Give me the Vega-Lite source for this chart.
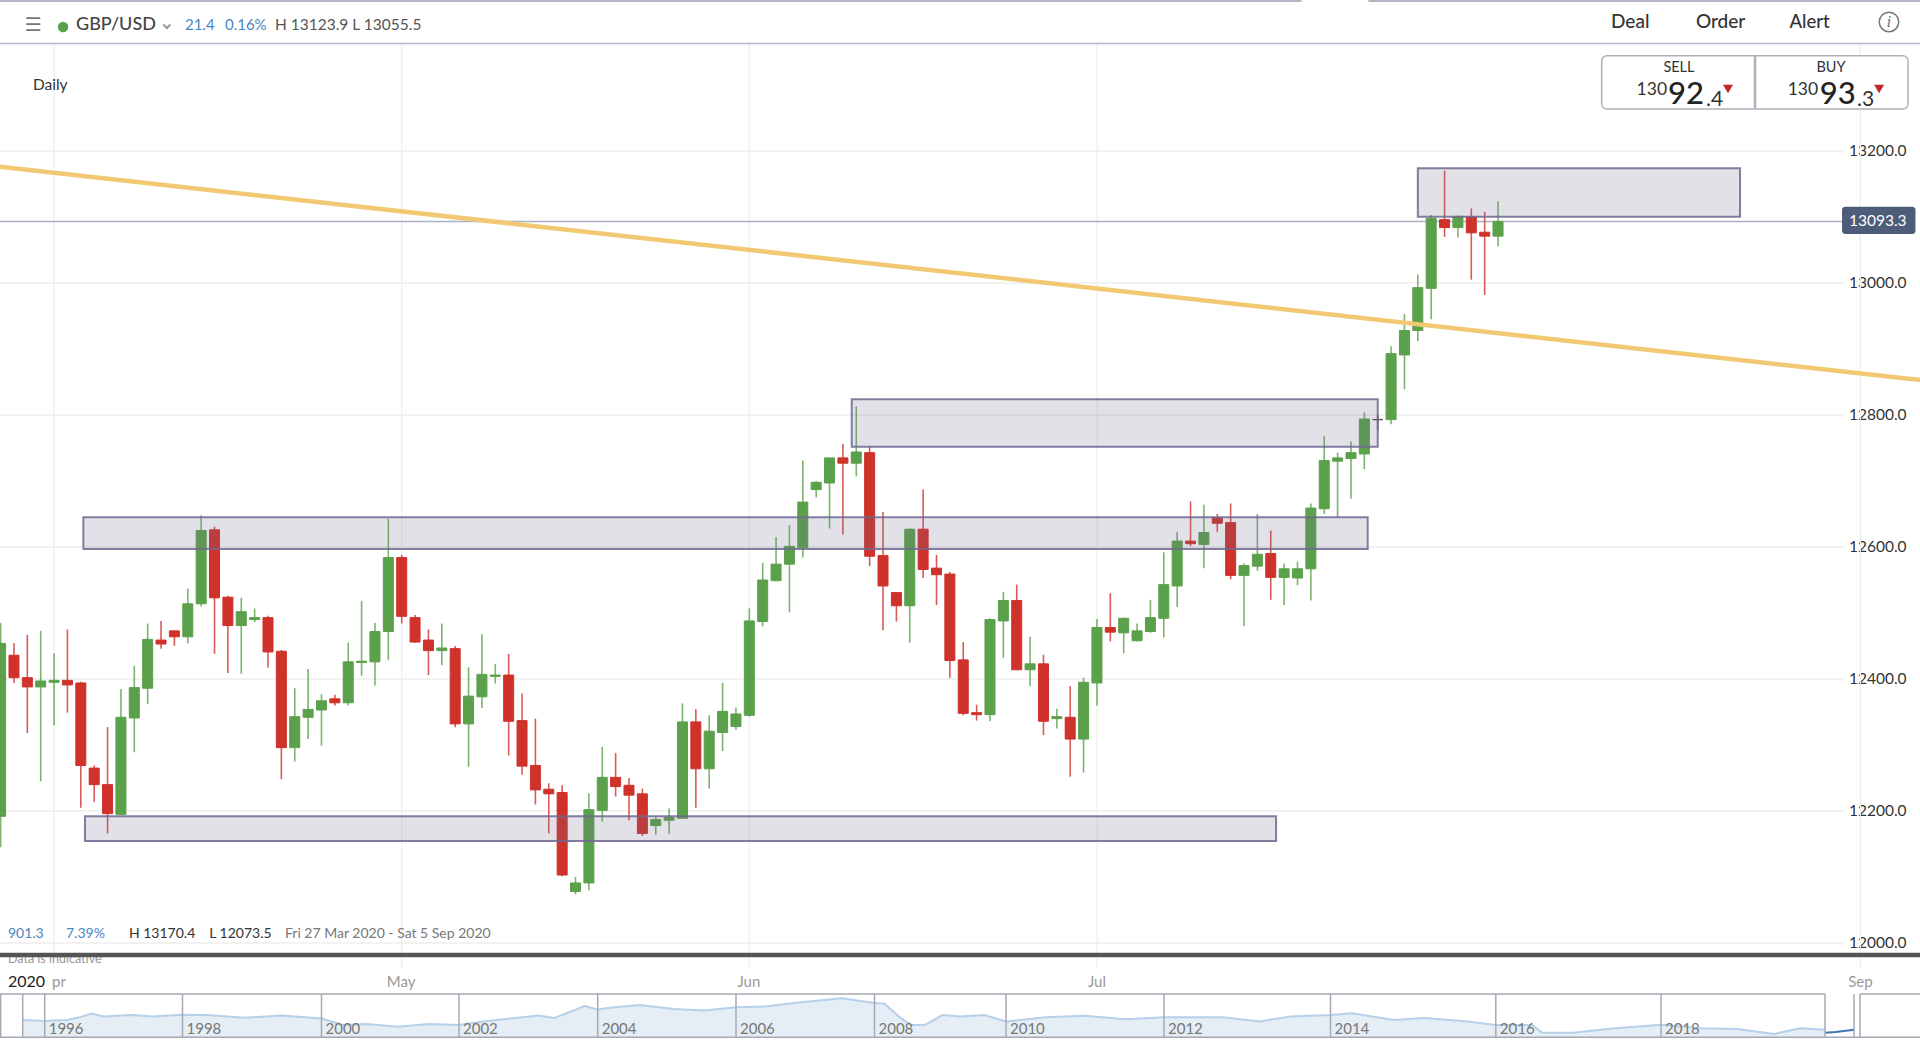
{
  "$schema": "https://vega.github.io/schema/vega-lite/v6.json",
  "width": 1920,
  "height": 1043,
  "padding": 0,
  "autosize": {"type": "none"},
  "background": "white",
  "datasets": {
    "one": [{}],
    "levels": [{"p":12000},{"p":12200},{"p":12400},{"p":12600},{"p":12800},{"p":13000},{"p":13200}],
    "months": [{"i":4,"m":"Apr"},{"i":30,"m":"May"},{"i":56,"m":"Jun"},{"i":82,"m":"Jul"},{"i":139.1,"m":"Sep"}],
    "monthlabels": [{"i":4.37,"m":"pr"},{"i":29.95,"m":"May"},{"i":55.97,"m":"Jun"},{"i":82,"m":"Jul"},{"i":139.1,"m":"Sep"}],
    "zones": [
      {"x0":106.0,"x1":130.1,"top":13174,"bottom":13100.5},
      {"x0":63.66,"x1":103.0,"top":12824,"bottom":12752},
      {"x0":6.19,"x1":102.25,"top":12645,"bottom":12597},
      {"x0":6.31,"x1":95.4,"top":12192,"bottom":12154.5}
    ],
    "trend": [{"i":-0.045,"p":13176.2},{"i":143.56,"p":12853}],
    "candles": [
      {"i":0,"o":12192,"h":12485,"l":12145,"c":12454},
      {"i":1,"o":12436,"h":12454,"l":12394,"c":12402},
      {"i":2,"o":12402,"h":12467,"l":12318,"c":12388},
      {"i":3,"o":12388,"h":12473,"l":12245,"c":12397},
      {"i":4,"o":12395,"h":12439,"l":12330,"c":12398},
      {"i":5,"o":12398,"h":12475,"l":12349,"c":12391},
      {"i":6,"o":12394,"h":12396,"l":12205,"c":12269},
      {"i":7,"o":12265,"h":12269,"l":12214,"c":12240},
      {"i":8,"o":12240,"h":12327,"l":12166,"c":12196},
      {"i":9,"o":12195,"h":12385,"l":12194,"c":12342},
      {"i":10,"o":12341,"h":12420,"l":12289,"c":12387},
      {"i":11,"o":12386,"h":12484,"l":12362,"c":12460},
      {"i":12,"o":12459,"h":12488,"l":12446,"c":12453},
      {"i":13,"o":12473,"h":12473,"l":12450,"c":12464},
      {"i":14,"o":12464,"h":12537,"l":12454,"c":12514},
      {"i":15,"o":12514,"h":12648,"l":12510,"c":12625},
      {"i":16,"o":12626,"h":12631,"l":12438,"c":12523},
      {"i":17,"o":12524,"h":12526,"l":12409,"c":12481},
      {"i":18,"o":12481,"h":12523,"l":12408,"c":12502},
      {"i":19,"o":12490,"h":12507,"l":12486,"c":12493},
      {"i":20,"o":12493,"h":12496,"l":12417,"c":12441},
      {"i":21,"o":12442,"h":12444,"l":12248,"c":12296},
      {"i":22,"o":12296,"h":12386,"l":12275,"c":12343},
      {"i":23,"o":12342,"h":12415,"l":12309,"c":12354},
      {"i":24,"o":12353,"h":12377,"l":12299,"c":12367},
      {"i":25,"o":12370,"h":12376,"l":12360,"c":12364},
      {"i":26,"o":12364,"h":12455,"l":12360,"c":12426},
      {"i":27,"o":12425,"h":12518,"l":12405,"c":12427},
      {"i":28,"o":12426,"h":12485,"l":12390,"c":12472},
      {"i":29,"o":12472,"h":12643,"l":12429,"c":12584},
      {"i":30,"o":12584,"h":12588,"l":12484,"c":12495},
      {"i":31,"o":12493,"h":12497,"l":12455,"c":12456},
      {"i":32,"o":12459,"h":12475,"l":12406,"c":12443},
      {"i":33,"o":12443,"h":12484,"l":12421,"c":12447},
      {"i":34,"o":12446,"h":12450,"l":12327,"c":12332},
      {"i":35,"o":12332,"h":12418,"l":12267,"c":12374},
      {"i":36,"o":12373,"h":12468,"l":12356,"c":12407},
      {"i":37,"o":12404,"h":12423,"l":12393,"c":12406},
      {"i":38,"o":12406,"h":12438,"l":12284,"c":12336},
      {"i":39,"o":12337,"h":12378,"l":12255,"c":12268},
      {"i":40,"o":12269,"h":12340,"l":12210,"c":12232},
      {"i":41,"o":12233,"h":12242,"l":12166,"c":12226},
      {"i":42,"o":12228,"h":12239,"l":12101,"c":12103},
      {"i":43,"o":12078,"h":12100,"l":12073.5,"c":12091},
      {"i":44,"o":12091,"h":12227,"l":12080,"c":12202},
      {"i":45,"o":12201,"h":12297,"l":12184,"c":12251},
      {"i":46,"o":12251,"h":12288,"l":12222,"c":12237},
      {"i":47,"o":12239,"h":12250,"l":12186,"c":12224},
      {"i":48,"o":12226,"h":12234,"l":12162,"c":12166},
      {"i":49,"o":12178,"h":12191,"l":12164,"c":12187},
      {"i":50,"o":12186,"h":12204,"l":12165,"c":12190},
      {"i":51,"o":12189,"h":12363,"l":12189,"c":12335},
      {"i":52,"o":12335,"h":12354,"l":12205,"c":12264},
      {"i":53,"o":12264,"h":12345,"l":12234,"c":12321},
      {"i":54,"o":12319,"h":12394,"l":12291,"c":12351},
      {"i":55,"o":12328,"h":12357,"l":12323,"c":12347},
      {"i":56,"o":12345,"h":12507,"l":12343,"c":12488},
      {"i":57,"o":12487,"h":12576,"l":12480,"c":12550},
      {"i":58,"o":12549,"h":12615,"l":12548,"c":12574},
      {"i":59,"o":12574,"h":12633,"l":12501,"c":12601},
      {"i":60,"o":12599,"h":12731,"l":12584,"c":12668},
      {"i":61,"o":12687,"h":12700,"l":12675,"c":12698},
      {"i":62,"o":12697,"h":12735,"l":12628,"c":12735},
      {"i":63,"o":12735,"h":12756,"l":12619,"c":12727},
      {"i":64,"o":12727,"h":12813,"l":12707,"c":12744},
      {"i":65,"o":12743,"h":12752,"l":12571,"c":12586},
      {"i":66,"o":12587,"h":12653,"l":12474,"c":12541},
      {"i":67,"o":12531,"h":12531,"l":12487,"c":12511},
      {"i":68,"o":12511,"h":12628,"l":12455,"c":12627},
      {"i":69,"o":12627,"h":12687,"l":12553,"c":12566},
      {"i":70,"o":12568,"h":12588,"l":12512,"c":12558},
      {"i":71,"o":12559,"h":12562,"l":12402,"c":12428},
      {"i":72,"o":12429,"h":12456,"l":12345,"c":12348},
      {"i":73,"o":12349,"h":12361,"l":12337,"c":12346},
      {"i":74,"o":12346,"h":12492,"l":12336,"c":12490},
      {"i":75,"o":12488,"h":12532,"l":12432,"c":12519},
      {"i":76,"o":12519,"h":12543,"l":12414,"c":12414},
      {"i":77,"o":12414,"h":12464,"l":12389,"c":12423},
      {"i":78,"o":12423,"h":12437,"l":12315,"c":12336},
      {"i":79,"o":12340,"h":12355,"l":12325,"c":12343},
      {"i":80,"o":12342,"h":12389,"l":12252,"c":12309},
      {"i":81,"o":12309,"h":12402,"l":12258,"c":12395},
      {"i":82,"o":12394,"h":12491,"l":12360,"c":12478},
      {"i":83,"o":12478,"h":12530,"l":12457,"c":12471},
      {"i":84,"o":12470,"h":12493,"l":12439,"c":12492},
      {"i":85,"o":12458,"h":12484,"l":12457,"c":12473},
      {"i":86,"o":12472,"h":12520,"l":12470,"c":12493},
      {"i":87,"o":12492,"h":12592,"l":12463,"c":12543},
      {"i":88,"o":12541,"h":12623,"l":12509,"c":12609},
      {"i":89,"o":12609,"h":12669,"l":12601,"c":12605},
      {"i":90,"o":12604,"h":12664,"l":12568,"c":12622},
      {"i":91,"o":12644,"h":12650,"l":12623,"c":12636},
      {"i":92,"o":12637,"h":12666,"l":12551,"c":12557},
      {"i":93,"o":12557,"h":12575,"l":12480,"c":12572},
      {"i":94,"o":12571,"h":12650,"l":12564,"c":12589},
      {"i":95,"o":12590,"h":12625,"l":12520,"c":12554},
      {"i":96,"o":12554,"h":12575,"l":12512,"c":12567},
      {"i":97,"o":12553,"h":12578,"l":12542,"c":12567},
      {"i":98,"o":12567,"h":12666,"l":12519,"c":12659},
      {"i":99,"o":12658,"h":12768,"l":12650,"c":12731},
      {"i":100,"o":12730,"h":12743,"l":12645,"c":12735},
      {"i":101,"o":12734,"h":12760,"l":12673,"c":12743},
      {"i":102,"o":12741,"h":12804,"l":12718,"c":12794},
      {"i":103,"o":12793,"h":12800,"l":12777,"c":12793},
      {"i":104,"o":12793,"h":12904,"l":12786,"c":12893},
      {"i":105,"o":12891,"h":12953,"l":12839,"c":12928},
      {"i":106,"o":12928,"h":13013,"l":12912,"c":12993},
      {"i":107,"o":12992,"h":13103,"l":12945,"c":13098},
      {"i":108,"o":13096,"h":13170.4,"l":13070,"c":13084},
      {"i":109,"o":13084,"h":13102,"l":13069,"c":13101},
      {"i":110,"o":13100,"h":13113,"l":13005,"c":13076},
      {"i":111,"o":13077,"h":13108,"l":12982,"c":13071},
      {"i":112,"o":13071,"h":13123.9,"l":13055.5,"c":13093.3}
    ],
    "history": [
      {"year":1995.7,"rate":1.51},{"year":1996,"rate":1.48},{"year":1996.33,"rate":1.51},{"year":1996.5,"rate":1.58},
      {"year":1996.68,"rate":1.68},{"year":1996.86,"rate":1.6},{"year":1997.26,"rate":1.64},{"year":1997.57,"rate":1.6},
      {"year":1998,"rate":1.65},{"year":1998.36,"rate":1.64},{"year":1998.89,"rate":1.57},{"year":1999.43,"rate":1.63},
      {"year":2000,"rate":1.55},{"year":2000.31,"rate":1.38},{"year":2000.66,"rate":1.4},{"year":2001.11,"rate":1.33},
      {"year":2001.56,"rate":1.4},{"year":2002,"rate":1.38},{"year":2002.35,"rate":1.47},{"year":2002.71,"rate":1.54},
      {"year":2003.15,"rate":1.63},{"year":2003.37,"rate":1.56},{"year":2003.81,"rate":1.88},{"year":2004,"rate":1.79},
      {"year":2004.21,"rate":1.84},{"year":2004.61,"rate":1.91},{"year":2005.1,"rate":1.8},{"year":2005.54,"rate":1.76},
      {"year":2006,"rate":1.85},{"year":2006.42,"rate":1.87},{"year":2006.87,"rate":1.97},{"year":2007.53,"rate":2.09},
      {"year":2008,"rate":1.96},{"year":2008.15,"rate":1.95},{"year":2008.37,"rate":1.6},{"year":2008.55,"rate":1.38},
      {"year":2008.77,"rate":1.38},{"year":2009.03,"rate":1.64},{"year":2009.3,"rate":1.6},{"year":2009.67,"rate":1.64},
      {"year":2010,"rate":1.47},{"year":2010.5,"rate":1.58},{"year":2011,"rate":1.62},{"year":2011.51,"rate":1.53},
      {"year":2012,"rate":1.58},{"year":2012.71,"rate":1.58},{"year":2013.15,"rate":1.47},{"year":2013.52,"rate":1.6},
      {"year":2014,"rate":1.64},{"year":2014.26,"rate":1.69},{"year":2014.77,"rate":1.51},{"year":2015.14,"rate":1.56},
      {"year":2015.66,"rate":1.47},{"year":2016,"rate":1.38},{"year":2016.44,"rate":1.38},{"year":2016.56,"rate":1.17},
      {"year":2016.93,"rate":1.17},{"year":2017.44,"rate":1.29},{"year":2018,"rate":1.38},{"year":2018.49,"rate":1.29},
      {"year":2018.93,"rate":1.27},{"year":2019.38,"rate":1.14},{"year":2019.7,"rate":1.29},{"year":2020,"rate":1.25}
    ],
    "recent": [{"year":2020,"rate":1.17},{"year":2020.22,"rate":1.19},{"year":2020.6,"rate":1.25}],
    "yearlabels": [{"year":1996},{"year":1998},{"year":2000},{"year":2002},{"year":2004},{"year":2006},{"year":2008},{"year":2010},{"year":2012},{"year":2014},{"year":2016},{"year":2018}],
    "cuts": [{"year":1995.7},{"year":2020},{"year":2020.6}]
  },
  "layer": [
    {
      "layer": [
        {
          "data": {"name": "levels"},
          "mark": {"type": "rule", "color": "#eeeeee", "strokeWidth": 1.5},
          "encoding": {
            "x": {"datum": -0.045, "scale": {"domain": [-0.045, 143.56], "range": [0, 1920], "padding": 0, "nice": false, "zero": false}},
            "x2": {"datum": 137.95},
            "y": {
              "field": "p", "type": "quantitative",
              "scale": {"domain": [11848.5, 13428.8], "range": [1043, 0], "padding": 0, "nice": false, "zero": false}
            }
          }
        },
        {
          "data": {"name": "levels"},
          "mark": {"type": "text", "fontSize": 15.5, "color": "#333333"},
          "encoding": {
            "x": {"datum": 138.25},
            "y": {"field": "p", "type": "quantitative"},
            "text": {"field": "p", "type": "quantitative", "format": ".1f"}
          }
        },
        {
          "data": {"name": "months"},
          "mark": {"type": "rule", "color": "#eeeeee", "strokeWidth": 1.2},
          "encoding": {
            "x": {"field": "i", "type": "quantitative"},
            "y": {"datum": 11962},
            "y2": {"datum": 13362}
          }
        },
        {
          "data": {"name": "one"},
          "mark": {"type": "rule", "color": "#a9b1c6", "strokeWidth": 1.5},
          "encoding": {"x": {"datum": -0.045}, "x2": {"datum": 137.73}, "y": {"datum": 13093.3}}
        },
        {
          "data": {"name": "candles"},
          "layer": [
            {
              "mark": {"type": "rule", "strokeWidth": 1.6, "opacity": 0.8, "clip": true},
              "encoding": {
                "x": {"field": "i", "type": "quantitative"},
                "y": {"field": "l", "type": "quantitative"},
                "y2": {"field": "h"},
                "color": {"condition": [{"test": "datum.c>datum.o", "value": "#5ba04a"}, {"test": "datum.c<datum.o", "value": "#cf322b"}], "value": "#444444"}
              }
            },
            {
              "mark": {"type": "bar", "size": 10, "strokeWidth": 1, "clip": true},
              "encoding": {
                "x": {"field": "i", "type": "quantitative"},
                "y": {"field": "o", "type": "quantitative"},
                "y2": {"field": "c"},
                "fill": {"condition": [{"test": "datum.c>datum.o", "value": "#5ba04a"}, {"test": "datum.c<datum.o", "value": "#cf322b"}], "value": "#444444"},
                "stroke": {"condition": [{"test": "datum.c>datum.o", "value": "#5ba04a"}, {"test": "datum.c<datum.o", "value": "#cf322b"}], "value": "#444444"}
              }
            }
          ]
        },
        {
          "data": {"name": "zones"},
          "mark": {"type": "rect", "fill": "#73698c", "fillOpacity": 0.2, "stroke": "#6f6790", "strokeOpacity": 0.85, "strokeWidth": 2},
          "encoding": {
            "x": {"field": "x0", "type": "quantitative"},
            "x2": {"field": "x1"},
            "y": {"field": "top", "type": "quantitative"},
            "y2": {"field": "bottom"}
          }
        },
        {
          "data": {"name": "trend"},
          "mark": {"type": "line", "color": "#f3c873", "strokeWidth": 4.5, "clip": true},
          "encoding": {
            "x": {"field": "i", "type": "quantitative"},
            "y": {"field": "p", "type": "quantitative"}
          }
        },
        {
          "data": {"name": "monthlabels"},
          "mark": {"type": "text", "align": "center", "fontSize": 15, "color": "#999999"},
          "encoding": {
            "x": {"field": "i", "type": "quantitative"},
            "y": {"datum": 11941.4},
            "text": {"field": "m"}
          }
        },
        {
          "data": {"name": "one"},
          "layer": [
            {"mark": {"type": "rule", "color": "#b4b4c4", "strokeWidth": 2}, "encoding": {"x": {"datum": -0.045}, "x2": {"datum": 97.3}, "y": {"datum": 13427.3}}},
            {"mark": {"type": "rule", "color": "#b4b4c4", "strokeWidth": 2}, "encoding": {"x": {"datum": 102.3}, "x2": {"datum": 143.56}, "y": {"datum": 13427.3}}},
            {"mark": {"type": "rule", "color": "#b4b4c4", "strokeWidth": 1.5}, "encoding": {"x": {"datum": -0.045}, "x2": {"datum": 143.56}, "y": {"datum": 13362.9}}},
            {"mark": {"type": "text", "text": "☰", "align": "center", "font": "DejaVu Sans", "fontSize": 19, "color": "#777777"}, "encoding": {"x": {"datum": 2.42}, "y": {"datum": 13391}}},
            {"mark": {"type": "point", "shape": "circle", "filled": true, "size": 110, "color": "#5ba04a", "opacity": 1}, "encoding": {"x": {"datum": 4.67}, "y": {"datum": 13388}}},
            {"mark": {"type": "text", "text": "GBP/USD", "fontSize": 18, "fontWeight": 500, "color": "#444444"}, "encoding": {"x": {"datum": 5.64}, "y": {"datum": 13391}}},
            {"mark": {"type": "point", "shape": "M-1,-0.5L0,0.5L1,-0.5", "filled": false, "size": 50, "strokeWidth": 2, "color": "#999999", "opacity": 1}, "encoding": {"x": {"datum": 12.44}, "y": {"datum": 13389}}},
            {"mark": {"type": "text", "text": "21.4", "fontSize": 15, "color": "#4a86c5"}, "encoding": {"x": {"datum": 13.79}, "y": {"datum": 13391}}},
            {"mark": {"type": "text", "text": "0.16%", "fontSize": 15, "color": "#4a86c5"}, "encoding": {"x": {"datum": 16.78}, "y": {"datum": 13391}}},
            {"mark": {"type": "text", "text": "H 13123.9  L 13055.5", "fontSize": 15.5, "color": "#555555"}, "encoding": {"x": {"datum": 20.52}, "y": {"datum": 13391}}},
            {"mark": {"type": "text", "text": "Daily", "fontSize": 15.5, "color": "#333333"}, "encoding": {"x": {"datum": 2.42}, "y": {"datum": 13300}}},
            {"mark": {"type": "text", "text": "Deal", "fontSize": 19, "fontWeight": 500, "color": "#333333"}, "encoding": {"x": {"datum": 120.45}, "y": {"datum": 13395.5}}},
            {"mark": {"type": "text", "text": "Order", "fontSize": 19, "fontWeight": 500, "color": "#333333"}, "encoding": {"x": {"datum": 126.8}, "y": {"datum": 13395.5}}},
            {"mark": {"type": "text", "text": "Alert", "fontSize": 18.5, "fontWeight": 500, "color": "#333333"}, "encoding": {"x": {"datum": 133.8}, "y": {"datum": 13395.5}}},
            {"mark": {"type": "point", "shape": "circle", "filled": false, "size": 380, "strokeWidth": 1.5, "color": "#777777", "opacity": 1}, "encoding": {"x": {"datum": 141.24}, "y": {"datum": 13395.5}}},
            {"mark": {"type": "text", "text": "i", "align": "center", "font": "Liberation Serif", "fontStyle": "italic", "fontSize": 17, "color": "#777777"}, "encoding": {"x": {"datum": 141.24}, "y": {"datum": 13395.5}}},
            {"mark": {"type": "rect", "fill": "white", "stroke": "#b0b0bc", "strokeWidth": 1.5, "cornerRadius": 5}, "encoding": {"x": {"datum": 119.75}, "x2": {"datum": 142.66}, "y": {"datum": 13344.4}, "y2": {"datum": 13263.6}}},
            {"mark": {"type": "rule", "color": "#b0b0bc", "strokeWidth": 2.5}, "encoding": {"x": {"datum": 131.22}, "y": {"datum": 13344.4}, "y2": {"datum": 13263.6}}},
            {"mark": {"type": "text", "text": "SELL", "align": "center", "fontSize": 14.5, "color": "#333333"}, "encoding": {"x": {"datum": 125.53}, "y": {"datum": 13325.8}}},
            {"mark": {"type": "text", "text": "BUY", "align": "center", "fontSize": 14.5, "color": "#333333"}, "encoding": {"x": {"datum": 136.9}, "y": {"datum": 13325.8}}},
            {"mark": {"type": "text", "text": "130", "align": "center", "fontSize": 17.5, "color": "#333333"}, "encoding": {"x": {"datum": 123.5}, "y": {"datum": 13292.4}}},
            {"mark": {"type": "text", "text": "130", "align": "center", "fontSize": 17.5, "color": "#333333"}, "encoding": {"x": {"datum": 134.8}, "y": {"datum": 13292.4}}},
            {"mark": {"type": "text", "text": "92", "align": "center", "fontSize": 31, "fontWeight": 500, "color": "#222222"}, "encoding": {"x": {"datum": 126.06}, "y": {"datum": 13284.8}}},
            {"mark": {"type": "text", "text": "93", "align": "center", "fontSize": 31, "fontWeight": 500, "color": "#222222"}, "encoding": {"x": {"datum": 137.4}, "y": {"datum": 13284.8}}},
            {"mark": {"type": "text", "text": ".4", "fontSize": 21, "color": "#333333"}, "encoding": {"x": {"datum": 127.55}, "y": {"datum": 13277.3}}},
            {"mark": {"type": "text", "text": ".3", "fontSize": 21, "color": "#333333"}, "encoding": {"x": {"datum": 138.85}, "y": {"datum": 13277.3}}},
            {"mark": {"type": "point", "shape": "triangle-down", "filled": true, "size": 100, "color": "#c0262a", "opacity": 1}, "encoding": {"x": {"datum": 129.2}, "y": {"datum": 13293.9}}},
            {"mark": {"type": "point", "shape": "triangle-down", "filled": true, "size": 100, "color": "#c0262a", "opacity": 1}, "encoding": {"x": {"datum": 140.5}, "y": {"datum": 13293.9}}},
            {"mark": {"type": "rect", "fill": "#4d5d79", "cornerRadius": 3}, "encoding": {"x": {"datum": 137.73}, "x2": {"datum": 143.22}, "y": {"datum": 13115.6}, "y2": {"datum": 13074.2}}},
            {"mark": {"type": "text", "text": "13093.3", "fontSize": 15.5, "color": "#ffffff"}, "encoding": {"x": {"datum": 138.25}, "y": {"datum": 13093.3}}},
            {"mark": {"type": "text", "text": "901.3", "fontSize": 14, "color": "#4a86c5"}, "encoding": {"x": {"datum": 0.55}, "y": {"datum": 12013.6}}},
            {"mark": {"type": "text", "text": "7.39%", "fontSize": 14, "color": "#4a86c5"}, "encoding": {"x": {"datum": 4.89}, "y": {"datum": 12013.6}}},
            {"mark": {"type": "text", "text": "H 13170.4", "fontSize": 14, "color": "#333333"}, "encoding": {"x": {"datum": 9.6}, "y": {"datum": 12013.6}}},
            {"mark": {"type": "text", "text": "L 12073.5", "fontSize": 14, "color": "#333333"}, "encoding": {"x": {"datum": 15.6}, "y": {"datum": 12013.6}}},
            {"mark": {"type": "text", "text": "Fri 27 Mar 2020 - Sat 5 Sep 2020", "fontSize": 14, "color": "#777777"}, "encoding": {"x": {"datum": 21.27}, "y": {"datum": 12013.6}}},
            {"mark": {"type": "text", "text": "Data is indicative", "fontSize": 12.5, "color": "#999999"}, "encoding": {"x": {"datum": 0.55}, "y": {"datum": 11975.8}}},
            {"mark": {"type": "rule", "color": "#555555", "strokeWidth": 4.5}, "encoding": {"x": {"datum": -0.045}, "x2": {"datum": 143.56}, "y": {"datum": 11981.8}}},
            {"mark": {"type": "text", "text": "2020", "fontSize": 16, "color": "#222222"}, "encoding": {"x": {"datum": 0.55}, "y": {"datum": 11941.4}}}
          ]
        }
      ]
    },
    {
      "layer": [
        {
          "data": {"name": "history"},
          "layer": [
            {
              "mark": {"type": "area", "color": "#e5edf5", "clip": true},
              "encoding": {
                "x": {
                  "field": "year", "type": "quantitative",
                  "scale": {
                    "domain": [1995, 1995.7, 1996, 1998, 2000, 2002, 2004, 2006, 2008, 2010, 2012, 2014, 2016, 2018, 2020, 2020.6, 2020.68, 2022.5],
                    "range": [0, 22.7, 44.7, 182.5, 321.5, 459, 597.7, 736, 874.5, 1006, 1164, 1330.5, 1495.8, 1661, 1825, 1854, 1860, 1920],
                    "nice": false, "zero": false
                  }
                },
                "y": {"field": "rate", "type": "quantitative", "scale": {"domain": [1.05, 2.2], "range": [1037.3, 994], "nice": false, "zero": false}},
                "y2": {"datum": 1.05}
              }
            },
            {
              "mark": {"type": "line", "color": "#b6d0ea", "strokeWidth": 2, "clip": true},
              "encoding": {
                "x": {"field": "year", "type": "quantitative"},
                "y": {"field": "rate", "type": "quantitative"}
              }
            }
          ]
        },
        {
          "data": {"name": "recent"},
          "mark": {"type": "line", "color": "#3d75b0", "strokeWidth": 2},
          "encoding": {
            "x": {"field": "year", "type": "quantitative"},
            "y": {"field": "rate", "type": "quantitative"}
          }
        },
        {
          "data": {"name": "yearlabels"},
          "layer": [
            {
              "mark": {"type": "rule", "color": "#a8a8b5", "strokeWidth": 1.5},
              "encoding": {
                "x": {"field": "year", "type": "quantitative"},
                "y": {"datum": 2.2},
                "y2": {"datum": 1.05}
              }
            },
            {
              "mark": {"type": "text", "dx": 4, "fontSize": 15, "color": "#777777"},
              "encoding": {
                "x": {"field": "year", "type": "quantitative"},
                "y": {"datum": 1.27},
                "text": {"field": "year", "type": "quantitative", "format": "d"}
              }
            }
          ]
        },
        {
          "data": {"name": "cuts"},
          "mark": {"type": "rule", "color": "#a8a8b5", "strokeWidth": 1.5},
          "encoding": {
            "x": {"field": "year", "type": "quantitative"},
            "y": {"datum": 2.2},
            "y2": {"datum": 1.05}
          }
        },
        {
          "data": {"name": "one"},
          "layer": [
            {"mark": {"type": "rule", "color": "#a8a8b5", "strokeWidth": 1.5}, "encoding": {"x": {"datum": 1995}, "x2": {"datum": 2020}, "y": {"datum": 2.2}}},
            {"mark": {"type": "rule", "color": "#a8a8b5", "strokeWidth": 1.5}, "encoding": {"x": {"datum": 2020.68}, "x2": {"datum": 2022.5}, "y": {"datum": 2.2}}},
            {"mark": {"type": "rule", "color": "#a8a8b5", "strokeWidth": 1.5}, "encoding": {"x": {"datum": 1995}, "x2": {"datum": 2022.5}, "y": {"datum": 1.05}}},
            {"mark": {"type": "rule", "color": "#a8a8b5", "strokeWidth": 1.5}, "encoding": {"x": {"datum": 2020.68}, "y": {"datum": 2.2}, "y2": {"datum": 1.05}}},
            {"mark": {"type": "rule", "color": "#a8a8b5", "strokeWidth": 1.5}, "encoding": {"x": {"datum": 1995.02}, "y": {"datum": 2.2}, "y2": {"datum": 1.05}}}
          ]
        }
      ]
    }
  ],
  "resolve": {"scale": {"x": "independent", "y": "independent"}},
  "config": {
    "font": "Lato",
    "view": {"stroke": null},
    "axis": {"disable": true},
    "text": {"baseline": "middle", "align": "left", "font": "Lato"}
  }
}
